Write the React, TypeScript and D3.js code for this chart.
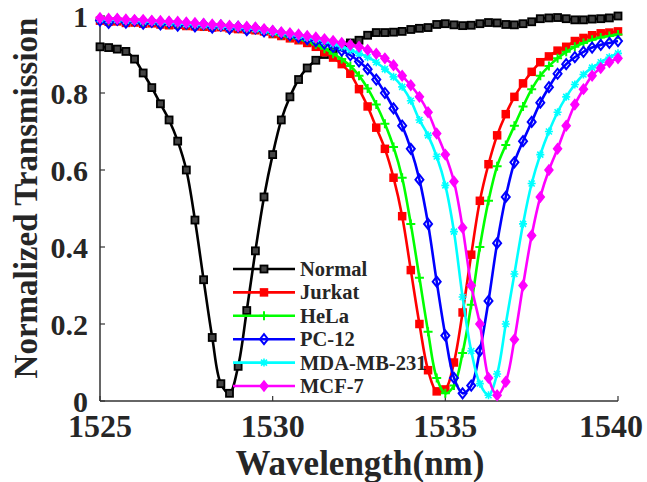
import React from "react";
import * as d3 from "d3";

const wavelengths = d3.range(61).map((i) => 1525 + i * 0.25);

const normal = [0.92, 0.918, 0.914, 0.908, 0.888, 0.852, 0.814, 0.772, 0.73, 0.675, 0.6, 0.47, 0.315, 0.165, 0.045, 0.02, 0.09, 0.235, 0.39, 0.53, 0.64, 0.73, 0.79, 0.835, 0.865, 0.885, 0.9, 0.912, 0.922, 0.93, 0.937, 0.95, 0.957, 0.957, 0.958, 0.96, 0.965, 0.968, 0.97, 0.978, 0.98, 0.977, 0.975, 0.976, 0.98, 0.983, 0.982, 0.978, 0.977, 0.98, 0.985, 0.993, 0.995, 0.996, 0.993, 0.99, 0.99, 0.992, 0.993, 0.995, 1.0];

const jurkat = [0.988, 0.985, 0.986, 0.982, 0.983, 0.98, 0.981, 0.978, 0.976, 0.977, 0.974, 0.973, 0.972, 0.97, 0.971, 0.968, 0.966, 0.965, 0.963, 0.96, 0.953, 0.948, 0.942, 0.937, 0.93, 0.92, 0.906, 0.892, 0.875, 0.85, 0.81, 0.765, 0.71, 0.655, 0.58, 0.48, 0.34, 0.2, 0.08, 0.025, 0.03, 0.1, 0.23, 0.38, 0.52, 0.615, 0.69, 0.745, 0.79, 0.825, 0.855, 0.88, 0.895, 0.91, 0.92, 0.935, 0.943, 0.95, 0.955, 0.957, 0.96];

const hela = [0.99, 0.987, 0.988, 0.985, 0.985, 0.982, 0.983, 0.98, 0.978, 0.979, 0.976, 0.975, 0.974, 0.972, 0.973, 0.97, 0.968, 0.967, 0.965, 0.962, 0.955, 0.95, 0.945, 0.94, 0.935, 0.926, 0.915, 0.902, 0.888, 0.87, 0.845, 0.812, 0.77, 0.72, 0.66, 0.58, 0.46, 0.32, 0.18, 0.06, 0.02, 0.04, 0.125, 0.25, 0.4, 0.52, 0.61, 0.665, 0.715, 0.765, 0.81, 0.845, 0.87, 0.89, 0.907, 0.92, 0.93, 0.938, 0.944, 0.948, 0.952];

const pc12 = [0.988, 0.982, 0.99, 0.983, 0.987, 0.98, 0.985, 0.978, 0.983, 0.975, 0.98, 0.973, 0.978, 0.97, 0.975, 0.967, 0.972, 0.963, 0.968, 0.96, 0.96, 0.955, 0.95, 0.945, 0.94, 0.935, 0.928, 0.92, 0.91, 0.898, 0.882, 0.862, 0.835, 0.8, 0.76, 0.715, 0.655, 0.575, 0.46, 0.31, 0.17, 0.06, 0.02, 0.04, 0.13, 0.26, 0.41, 0.53, 0.62, 0.675, 0.725, 0.775, 0.815, 0.85, 0.875, 0.893, 0.907, 0.918, 0.925, 0.93, 0.935];

const mdamb231 = [0.992, 0.99, 0.99, 0.988, 0.987, 0.986, 0.985, 0.984, 0.982, 0.981, 0.979, 0.978, 0.976, 0.975, 0.973, 0.972, 0.97, 0.968, 0.966, 0.962, 0.958, 0.955, 0.952, 0.948, 0.944, 0.94, 0.935, 0.928, 0.92, 0.912, 0.903, 0.893, 0.88, 0.862, 0.842, 0.816, 0.78, 0.73, 0.69, 0.635, 0.56, 0.44, 0.27, 0.13, 0.045, 0.015, 0.07, 0.2, 0.33, 0.46, 0.565, 0.64, 0.7, 0.75, 0.79, 0.822, 0.848, 0.866, 0.88, 0.893, 0.903];

const mcf7 = [0.995, 0.993, 0.993, 0.991, 0.99, 0.99, 0.988, 0.987, 0.986, 0.985, 0.983, 0.982, 0.98, 0.978, 0.977, 0.975, 0.973, 0.972, 0.97, 0.966, 0.962, 0.958, 0.955, 0.952, 0.948, 0.944, 0.94, 0.935, 0.93, 0.925, 0.92, 0.912, 0.902, 0.89, 0.872, 0.845, 0.82, 0.79, 0.75, 0.695, 0.64, 0.57, 0.45, 0.3, 0.2, 0.06, 0.015, 0.05, 0.16, 0.3, 0.43, 0.53, 0.6, 0.655, 0.715, 0.77, 0.81, 0.845, 0.865, 0.88, 0.89];

const seriesNames = ["Normal", "Jurkat", "HeLa", "PC-12", "MDA-MB-231", "MCF-7"];
const seriesValues = [normal, jurkat, hela, pc12, mdamb231, mcf7];
const seriesColors = ["#000000", "#ff0000", "#00ff00", "#0000ff", "#00ffff", "#ff00ff"];
const seriesMarkers = ["square", "squareFilled", "plus", "diamondOpen", "asterisk", "diamondFilled"];

const xTicks = [1525, 1530, 1535, 1540];
const yTicks = [0, 0.2, 0.4, 0.6, 0.8, 1];
const yTickLabels = ["0", "0.2", "0.4", "0.6", "0.8", "1"];

const FONT = "'Liberation Serif', 'Times New Roman', serif";

function Marker({ kind, color, x, y }: { kind: string; color: string; x: number; y: number }) {
  const t = `translate(${x},${y})`;
  switch (kind) {
    case "square":
      return <rect transform={t} x={-3.5} y={-3.5} width={7} height={7} fill="#444" stroke={color} strokeWidth={1.8} />;
    case "squareFilled":
      return <rect transform={t} x={-3.5} y={-3.5} width={7} height={7} fill={color} stroke={color} strokeWidth={1.5} />;
    case "plus":
      return <path transform={t} d="M-4.5,0H4.5M0,-4.5V4.5" stroke={color} strokeWidth={2} fill="none" />;
    case "diamondOpen":
      return <path transform={t} d="M0,-5L4,0L0,5L-4,0Z" stroke={color} strokeWidth={2} fill="none" />;
    case "asterisk":
      return <path transform={t} d="M-4,0H4M0,-4V4M-3,-3L3,3M-3,3L3,-3" stroke={color} strokeWidth={1.6} fill="none" />;
    case "diamondFilled":
      return <path transform={t} d="M0,-5L4,0L0,5L-4,0Z" stroke={color} strokeWidth={1.5} fill={color} />;
    default:
      return null;
  }
}

export default function App() {
  const width = 647;
  const height = 482;
  const x = d3.scaleLinear().domain([1525, 1540]).range([100, 618]);
  const y = d3.scaleLinear().domain([0, 1]).range([401, 16]);
  const line = d3
    .line<number>()
    .x((_, i) => x(wavelengths[i]))
    .y((d) => y(d))
    .curve(d3.curveCatmullRom.alpha(0.5));

  const axisColor = "#333";
  const legendX0 = 233;
  const legendX1 = 295;
  const legendY0 = 269;
  const legendDy = 23.4;

  return (
    <svg width={width} height={height} style={{ position: "absolute", left: 0, top: 0, background: "#fff" }}>
      {/* axes */}
      <line x1={x(1525)} x2={x(1540)} y1={y(0)} y2={y(0)} stroke={axisColor} strokeWidth={1.5} />
      <line x1={x(1525)} x2={x(1525)} y1={y(0)} y2={13} stroke={axisColor} strokeWidth={1.5} />
      {xTicks.map((t, i) => {
        const last = i === xTicks.length - 1;
        return (
          <g key={"xt" + t}>
            <line x1={x(t)} x2={x(t)} y1={y(0)} y2={y(0) - 5} stroke={axisColor} strokeWidth={1.2} />
            <text
              x={last ? 643 : x(t)}
              y={437}
              textAnchor={last ? "end" : "middle"}
              fontFamily={FONT}
              fontWeight="bold"
              fontSize={32}
              fill="#262626"
            >
              {t}
            </text>
          </g>
        );
      })}
      {yTicks.map((t, i) => (
        <g key={"yt" + t}>
          <line x1={x(1525)} x2={x(1525) + 5} y1={y(t)} y2={y(t)} stroke={axisColor} strokeWidth={1.2} />
          <text x={88} y={y(t) + 11} textAnchor="end" fontFamily={FONT} fontWeight="bold" fontSize={30} fill="#262626">
            {yTickLabels[i]}
          </text>
        </g>
      ))}
      <text x={360} y={475} textAnchor="middle" fontFamily={FONT} fontWeight="bold" fontSize={35} fill="#262626">
        Wavelength(nm)
      </text>
      <text
        transform={`translate(37,198) rotate(-90)`}
        textAnchor="middle"
        fontFamily={FONT}
        fontWeight="bold"
        fontSize={33}
        fill="#262626"
      >
        Normalized Transmission
      </text>

      {/* series */}
      {seriesValues.map((vals, si) => (
        <g key={seriesNames[si]}>
          <path d={line(vals) || ""} fill="none" stroke={seriesColors[si]} strokeWidth={2.6} strokeLinejoin="round" />
          {vals.map((v, i) => (
            <Marker key={i} kind={seriesMarkers[si]} color={seriesColors[si]} x={x(wavelengths[i])} y={y(v)} />
          ))}
        </g>
      ))}

      {/* legend */}
      {seriesNames.map((name, si) => {
        const ly = legendY0 + si * legendDy;
        return (
          <g key={"lg" + name}>
            <line x1={legendX0} x2={legendX1} y1={ly} y2={ly} stroke={seriesColors[si]} strokeWidth={2.6} />
            <Marker kind={seriesMarkers[si]} color={seriesColors[si]} x={(legendX0 + legendX1) / 2} y={ly} />
            <text x={legendX1 + 5} y={ly + 7} fontFamily={FONT} fontWeight="bold" fontSize={20.5} fill="#262626">
              {name}
            </text>
          </g>
        );
      })}
    </svg>
  );
}
